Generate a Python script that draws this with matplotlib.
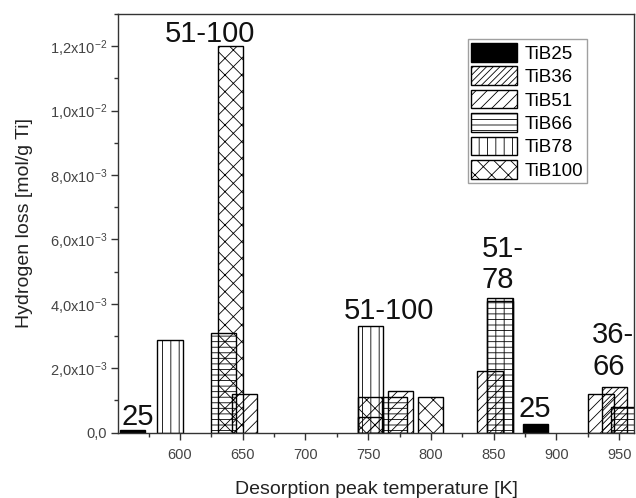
import matplotlib
matplotlib.use("Agg")
import matplotlib.pyplot as plt
from matplotlib.ticker import MultipleLocator

plt.rcParams['font.family'] = ['Liberation Sans', 'DejaVu Sans']
plt.rcParams['mathtext.fontset'] = 'custom'
plt.rcParams['mathtext.rm'] = 'Liberation Sans'
plt.rcParams['mathtext.it'] = 'Liberation Sans'
plt.rcParams['mathtext.default'] = 'regular'
plt.rcParams['hatch.linewidth'] = 0.6

# ---- data (peak temperature [K], hydrogen loss [mol/g Ti]) ----
samples = ['TiB25', 'TiB36', 'TiB51', 'TiB66', 'TiB78', 'TiB100']
tib25_T = [562.5, 883]
tib25_H = [0.07e-3, 0.27e-3]
tib36_T = [946]
tib36_H = [1.41e-3]
tib51_T = [651.5, 752, 776, 847, 935.5]
tib51_H = [1.2e-3, 0.48e-3, 1.31e-3, 1.93e-3, 1.2e-3]
tib66_T = [635, 771, 855, 953.5]
tib66_H = [3.1e-3, 1.1e-3, 4.1e-3, 0.79e-3]
tib78_T = [592, 752, 855]
tib78_H = [2.88e-3, 3.3e-3, 4.17e-3]
tib100_T = [640, 752, 799.6]
tib100_H = [1.2e-2, 1.1e-3, 1.1e-3]

hatches = ['', '/////', '///', '---', '||', 'xx']
faces = ['black', 'none', 'none', 'none', 'none', 'none']

yticks = [0, 2e-3, 4e-3, 6e-3, 8e-3, 1.0e-2, 1.2e-2]
ytick_labels = ['0,0', '2,0x10$^{-3}$', '4,0x10$^{-3}$', '6,0x10$^{-3}$',
                '8,0x10$^{-3}$', '1,0x10$^{-2}$', '1,2x10$^{-2}$']
xticks = [600, 650, 700, 750, 800, 850, 900, 950]

annotations = [('25', 566.1, 0.24e-3, 'center'),
               ('51-100', 623.9, 1.213e-2, 'center'),
               ('51-100', 766.4, 3.54e-3, 'center'),
               ('51-', 840.3, 5.47e-3, 'left'),
               ('78', 840.3, 4.49e-3, 'left'),
               ('25', 882.7, 0.50e-3, 'center'),
               ('36-', 928.3, 2.80e-3, 'left'),
               ('66', 928.3, 1.79e-3, 'left')]

bar_width = 20

fig = plt.figure(figsize=(6.36, 4.98), dpi=100)
ax = fig.add_axes([118/636, (498-432.7)/498, 516.3/636, 418.7/498])

series_T = [tib25_T, tib36_T, tib51_T, tib66_T, tib78_T, tib100_T]
series_H = [tib25_H, tib36_H, tib51_H, tib66_H, tib78_H, tib100_H]
for name, T, H, h, fc in zip(samples, series_T, series_H, hatches, faces):
    ax.bar(T, H, width=bar_width, facecolor=fc, edgecolor='black',
           hatch=h, linewidth=1.0, label=name)

ax.set_xlim(550.6, 962)
ax.set_ylim(0, 1.3e-2)

ax.set_xticks(xticks)
ax.xaxis.set_minor_locator(MultipleLocator(25))
ax.set_yticks(yticks)
ax.set_yticklabels(ytick_labels)
ax.yaxis.set_minor_locator(MultipleLocator(1e-3))

ax.tick_params(which='major', direction='out', length=5, width=1.0,
               labelsize=10.5, labelcolor='#444444', color='#333333')
ax.tick_params(which='minor', direction='out', length=3, width=1.0,
               color='#333333')
ax.tick_params(axis='x', pad=6)
ax.tick_params(axis='y', pad=3)

for s in ax.spines.values():
    s.set_linewidth(1.0)
    s.set_color('#333333')

ax.set_xlabel('Desorption peak temperature [K]', fontsize=14, color='#222222', labelpad=14)
ax.set_ylabel('Hydrogen loss [mol/g Ti]', fontsize=14, color='#222222', labelpad=12)

for txt, x, y, ha in annotations:
    ax.text(x, y, txt, fontsize=21, ha=ha, va='baseline', color='#111111')

leg = ax.legend(loc='upper left', bbox_to_anchor=(0.6773, 0.9396),
                borderaxespad=0, fontsize=13.5, frameon=True, fancybox=False,
                handlelength=2.45, handleheight=1.15, handletextpad=0.4,
                labelspacing=0.2, borderpad=0.2)
leg.get_frame().set_edgecolor('#888888')
leg.get_frame().set_linewidth(1.0)

fig.savefig('out.png', dpi=100)
